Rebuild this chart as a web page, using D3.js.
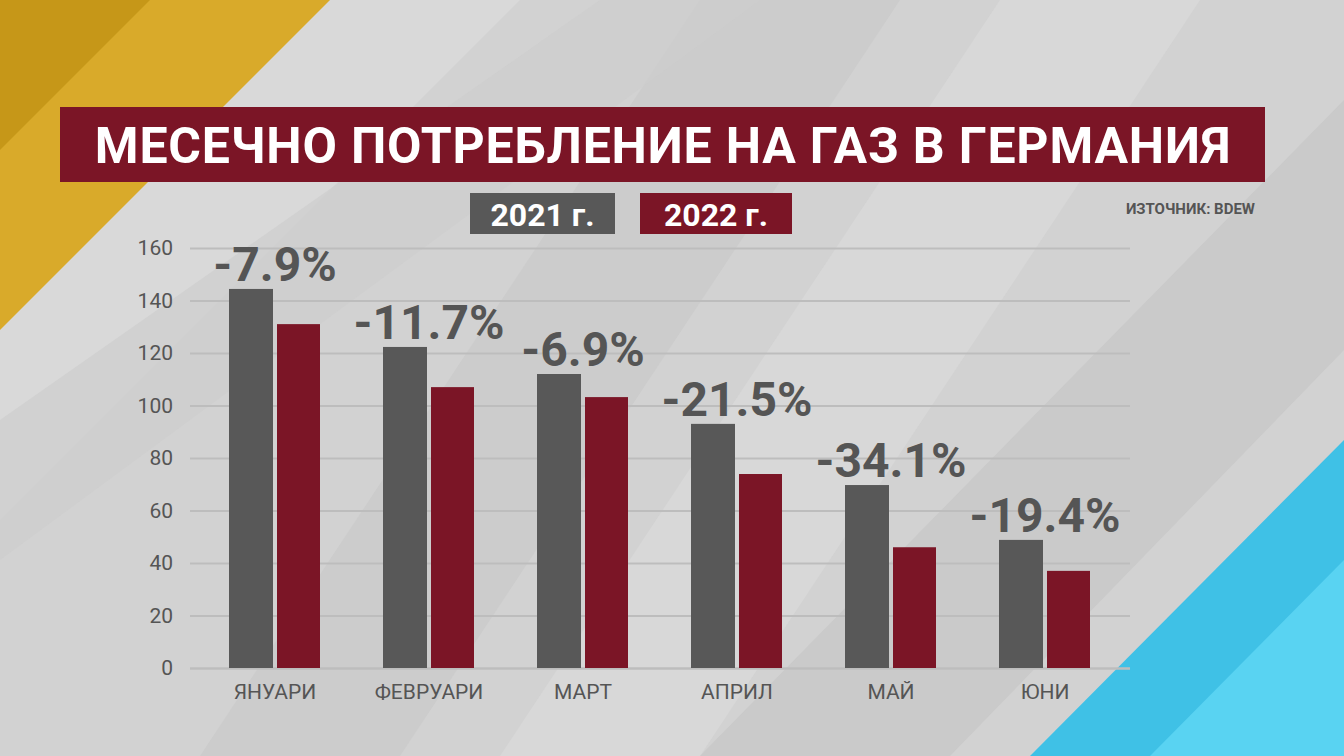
<!DOCTYPE html>
<html><head><meta charset="utf-8">
<script src="https://d3js.org/d3.v7.min.js"></script>
<style>
  body { margin:0; overflow:hidden; }
  text { font-family: Roboto, "Open Sans", sans-serif; }
  .grid line { stroke:#bdbdbd; stroke-width:2; }
  .grid .domain { stroke:none; }
</style></head>
<body>
<svg id="chart" width="1344" height="756"></svg>
<script>
const months = ["ЯНУАРИ","ФЕВРУАРИ","МАРТ","АПРИЛ","МАЙ","ЮНИ"];
const gas2021 = [144.4, 122.3, 112, 93, 69.7, 48.8];
const gas2022 = [131, 107, 103.2, 73.9, 46, 37];
const changes = ["-7.9%","-11.7%","-6.9%","-21.5%","-34.1%","-19.4%"];
const yTicks = [0,20,40,60,80,100,120,140,160];

let svg = d3.select("#chart");
const W = 1344, H = 756;

// background
svg.append("rect").attr("width", W).attr("height", H).attr("fill", "#d2d2d2");
let bg = svg.append("g");
const stripes = [
  [[300,0],[520,0],[0,520],[0,300],"#dcdcdc"],
  [[700,0],[900,0],[400,756],[200,756],"#c9c9c9"],
  [[1000,0],[1200,0],[700,756],[500,756],"#dadada"],
  [[1344,100],[1344,350],[950,756],[700,756],"#c6c6c6"],
  [[600,0],[760,0],[0,560],[0,420],"#cdcdcd"]
];
stripes.forEach(s => bg.append("polygon").attr("points", s.slice(0,4).map(p=>p.join(",")).join(" ")).attr("fill", s[4]).attr("opacity",0.7));
bg.append("polygon").attr("points","0,0 330,0 0,330").attr("fill","#d9aa2a");
bg.append("polygon").attr("points","0,0 150,0 0,150").attr("fill","#c69718");
bg.append("polygon").attr("points","1344,440 1344,756 1030,756").attr("fill","#3fc1e6");
bg.append("polygon").attr("points","1344,560 1344,756 1150,756").attr("fill","#59d3f2");

// title
svg.append("rect").attr("x",60).attr("y",107).attr("width",1205).attr("height",75).attr("fill","#7b1526");
svg.append("text").attr("x",663).attr("y",163).attr("text-anchor","middle")
  .attr("fill","#fff").attr("font-size",50).attr("font-weight","bold").attr("letter-spacing",0.8).text("МЕСЕЧНО ПОТРЕБЛЕНИЕ НА ГАЗ В ГЕРМАНИЯ");

// legend
const legend = [["2021 г.","#585858",470,145],["2022 г.","#7b1526",640,152]];
legend.forEach(l => {
  svg.append("rect").attr("x",l[2]).attr("y",193).attr("width",l[3]).attr("height",41).attr("fill",l[1]);
  svg.append("text").attr("x",l[2]+l[3]/2).attr("y",226).attr("text-anchor","middle")
    .attr("fill","#fff").attr("font-size",32).attr("font-weight","bold").text(l[0]);
});
svg.append("text").attr("x",1255).attr("y",214).attr("text-anchor","end")
  .attr("fill","#555").attr("font-size",15).attr("font-weight","bold").text("ИЗТОЧНИК: BDEW");

// scales
const x = d3.scaleBand().domain(months).range([198,1122]).paddingInner(0).paddingOuter(0);
const y = d3.scaleLinear().domain([0,160]).range([668,248]);

svg.append("g").attr("class","grid").attr("transform","translate(190,0)")
  .call(d3.axisLeft(y).tickValues(yTicks).tickSize(-940).tickFormat(""));
svg.append("g").attr("class","grid").attr("transform","translate(190,0)")
  .call(d3.axisLeft(y).tickValues([0]).tickSize(-940).tickFormat("")).selectAll("line").attr("stroke","#8a8a8a");

yTicks.forEach(t => svg.append("text").attr("x",173).attr("y",y(t)+7).attr("text-anchor","end")
  .attr("fill","#555").attr("font-size",21).text(t));

const bw = 44;
months.forEach((m,i) => {
  const cx = x(m) + x.bandwidth()/2;
  svg.append("rect").attr("x",cx-46).attr("y",y(gas2021[i])).attr("width",bw).attr("height",y(0)-y(gas2021[i])).attr("fill","#585858");
  svg.append("rect").attr("x",cx+2).attr("y",y(gas2022[i])).attr("width",bw-1).attr("height",y(0)-y(gas2022[i])).attr("fill","#7b1526");
  svg.append("text").attr("x",cx).attr("y",y(gas2021[i])-8).attr("text-anchor","middle")
    .attr("fill","#555").attr("font-size",48).attr("font-weight","bold").text(changes[i]);
  svg.append("text").attr("x",cx).attr("y",699).attr("text-anchor","middle")
    .attr("fill","#555").attr("font-size",21).text(m);
});
</script>
</body></html>
